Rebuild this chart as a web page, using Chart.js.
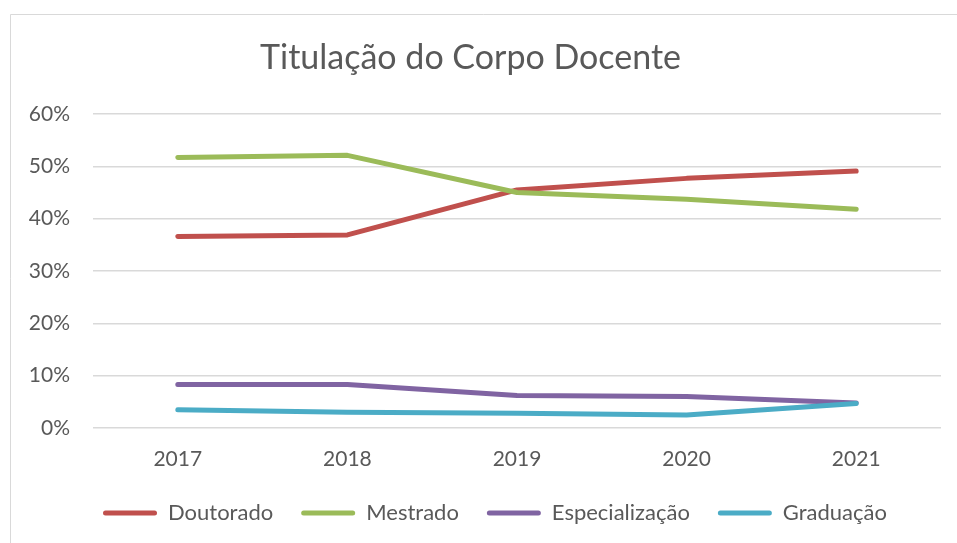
<!DOCTYPE html>
<html>
<head>
<meta charset="utf-8">
<script src="https://cdn.jsdelivr.net/npm/chart.js@4.4.1/dist/chart.umd.min.js"></script>
<style>
  html, body { margin: 0; padding: 0; background: #fff; }
  #wrap { width: 957px; height: 543px; }
</style>
</head>
<body>
<div id="wrap"><canvas id="lineChart" width="957" height="543"></canvas></div>
<script>
// data (percent)
const years = ['2017', '2018', '2019', '2020', '2021'];
const doutorado = [36.6, 36.9, 45.5, 47.7, 49.1];
const mestrado = [51.7, 52.1, 45.0, 43.7, 41.8];
const especializacao = [8.3, 8.3, 6.2, 6.0, 4.8];
const graduacao = [3.5, 3.0, 2.8, 2.5, 4.7];
const yTicks = [0, 10, 20, 30, 40, 50, 60];

const textColor = '#595959';
const fontFamily = 'Lato, "Open Sans", sans-serif';

const framePlugin = {
    id: 'frame',
    beforeDraw(chart) {
        const ctx = chart.ctx;
        ctx.save();
        ctx.fillStyle = '#ffffff';
        ctx.fillRect(0, 0, chart.width, chart.height);
        ctx.strokeStyle = '#d9d9d9';
        ctx.lineWidth = 1;
        ctx.beginPath();
        ctx.moveTo(10.5, chart.height);
        ctx.lineTo(10.5, 14.5);
        ctx.lineTo(chart.width, 14.5);
        ctx.stroke();
        ctx.restore();
    },
    afterLayout(chart) {
        // legend starts where the reference legend starts
        const lg = chart.legend;
        const shift = 103 - (lg.left + lg.options.labels.padding);
        lg.left += shift;
        lg.right += shift;
    }
};

function makeSet(label, data, color, order) {
    return {
        label: label,
        data: data,
        borderColor: color,
        backgroundColor: color,
        borderWidth: 5,
        borderCapStyle: 'round',
        borderJoinStyle: 'round',
        pointRadius: 0,
        pointHoverRadius: 0,
        tension: 0,
        fill: false,
        order: order
    };
}

const ctx = document.getElementById('lineChart').getContext('2d');
const chart = new Chart(ctx, {
    type: 'line',
    data: {
        labels: years,
        datasets: [
            makeSet('Doutorado', doutorado, '#C0504D', 3),
            makeSet('Mestrado', mestrado, '#9BBB59', 2),
            makeSet('Especialização', especializacao, '#8064A2', 1),
            makeSet('Graduação', graduacao, '#4BACC6', 0)
        ]
    },
    plugins: [framePlugin],
    options: {
        responsive: false,
        animation: false,
        layout: {
            padding: { left: 0, right: 16, top: 0, bottom: 9 }
        },
        plugins: {
            title: {
                display: true,
                text: 'Titulação do Corpo Docente',
                color: textColor,
                font: { family: fontFamily, size: 34, weight: 'normal' },
                padding: { top: 38, bottom: 35.2 }
            },
            legend: {
                position: 'bottom',
                align: 'start',
                labels: {
                    color: textColor,
                    font: { family: fontFamily, size: 22 },
                    boxWidth: 54,
                    boxHeight: 5,
                    padding: 28,
                    generateLabels(chart) {
                        const items = Chart.defaults.plugins.legend.labels.generateLabels(chart);
                        items.sort((a, b) => a.datasetIndex - b.datasetIndex);
                        return items.map(it => Object.assign(it, {
                            fillStyle: it.strokeStyle,
                            lineWidth: 0,
                            borderRadius: 2.5
                        }));
                    }
                }
            },
            tooltip: { enabled: false }
        },
        scales: {
            x: {
                offset: true,
                grid: { display: false, drawTicks: false },
                border: { display: false },
                ticks: {
                    color: textColor,
                    font: { family: fontFamily, size: 21 },
                    padding: 19,
                    maxRotation: 0
                },
                afterFit(scale) { scale.height = 46; }
            },
            y: {
                min: 0,
                max: 60,
                afterBuildTicks(scale) {
                    scale.ticks = yTicks.map(v => ({ value: v }));
                },
                grid: { color: '#d9d9d9', lineWidth: 1.5, drawTicks: false },
                border: { display: false },
                ticks: {
                    color: textColor,
                    font: { family: fontFamily, size: 21 },
                    padding: 23,
                    callback: v => v + '%'
                },
                afterFit(scale) { scale.width = 93; }
            }
        }
    }
});
</script>
</body>
</html>
